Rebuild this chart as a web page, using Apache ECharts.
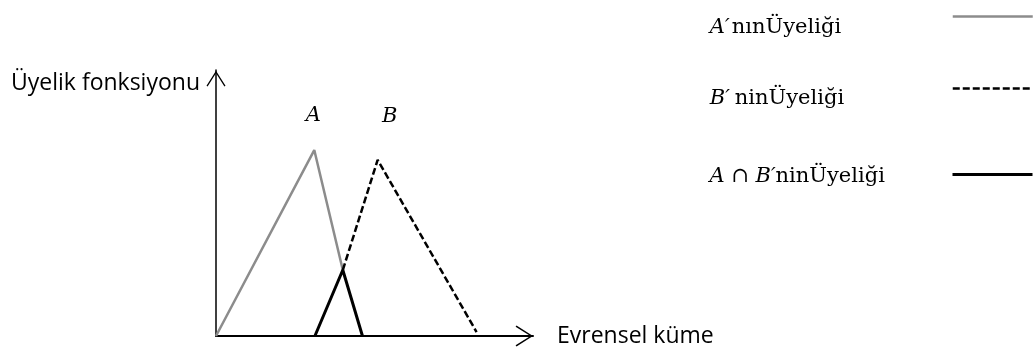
<!DOCTYPE html>
<html>
<head>
<meta charset="utf-8">
<script src="https://cdn.jsdelivr.net/npm/echarts@6/dist/echarts.min.js"></script>
<style>
  html, body { margin: 0; padding: 0; background: #fff; }
  #main { width: 1034px; height: 351px; }
</style>
</head>
<body>
<div id="main"></div>
<script>
// uyelik fonksiyonlari (x: evrensel kume 0..100, y: uyelik 0..100)
var seriesA = [[0, 0], [31.0, 69.9], [40.0, 24.8]];
var seriesB = [[40.0, 24.8], [51.0, 66.2], [82.2, 1.5]];
var seriesAB = [[31.2, 0], [40.0, 24.8], [46.2, 0]];

var peakLabels = ['A', 'B'];
var peakPoints = [[31.0, 69.9], [51.0, 66.2]];

var legendMath = ['A′', 'B′', 'A ∩ B′'];
var legendRest = ['nınÜyeliği', 'ninÜyeliği', 'ninÜyeliği'];
var seriesNames = legendMath.map(function (m, i) { return m + legendRest[i]; });

var serif = 'DejaVu Serif';
var sans = 'Open Sans';

// arrow head for axis ends (points up, gets rotated by echarts)
var chevron = 'path://M0,0 L10.5,16.5 L9.3,17.4 L0,2.6 L-9.3,17.4 L-10.5,16.5 Z';

function makeLegend(i, top, padTop, mathW, lineW) {
    var rich = {
        m: { fontFamily: serif, fontStyle: 'italic', fontSize: 21, width: mathW, align: 'left', lineHeight: 26, color: '#000' },
        t: { fontFamily: serif, fontSize: 21, width: 238 - mathW, align: 'left', lineHeight: 26, color: '#000' }
    };
    return {
        data: [seriesNames[i]],
        right: 0,
        top: top,
        padding: 0,
        align: 'right',
        itemWidth: 80,
        itemHeight: 14,
        selectedMode: false,
        itemStyle: { opacity: 0 },
        lineStyle: { width: lineW },
        textStyle: { padding: [padTop, 0, 0, 0], rich: rich },
        formatter: function () {
            return '{m|' + legendMath[i] + '}{t|' + legendRest[i] + '}';
        }
    };
}

var chart = echarts.init(document.getElementById('main'));

var option = {
    animation: false,
    backgroundColor: '#fff',
    grid: {
        left: 216,
        top: 70,
        width: 317,
        height: 266,
        outerBoundsMode: 'none'
    },
    legend: [
        makeLegend(0, 11, 21, 22, 2.5),
        makeLegend(1, 83, 20, 25, 2.5),
        makeLegend(2, 166.5, 5, 66, 3)
    ],
    xAxis: {
        type: 'value',
        min: 0,
        max: 100,
        name: 'Evrensel küme',
        nameLocation: 'end',
        nameGap: 24,
        nameTextStyle: { fontFamily: sans, fontSize: 23, color: '#000' },
        axisLine: {
            show: true,
            onZero: false,
            symbol: ['none', chevron],
            symbolSize: [21, 17.4],
            symbolOffset: [0, -8.7],
            lineStyle: { color: '#000', width: 2 }
        },
        axisTick: { show: false },
        axisLabel: { show: false },
        splitLine: { show: false }
    },
    yAxis: {
        type: 'value',
        min: 0,
        max: 100,
        name: 'Üyelik fonksiyonu',
        nameLocation: 'end',
        nameGap: -13,
        nameTextStyle: {
            fontFamily: sans,
            fontSize: 23,
            color: '#000',
            align: 'right',
            verticalAlign: 'middle',
            padding: [0, 16, 0, 0]
        },
        axisLine: {
            show: true,
            onZero: false,
            symbol: ['none', chevron],
            symbolSize: [19, 17.4],
            symbolOffset: [0, -8.7],
            lineStyle: { color: '#000', width: 1.5 }
        },
        axisTick: { show: false },
        axisLabel: { show: false },
        splitLine: { show: false }
    },
    series: [
        {
            name: seriesNames[0],
            type: 'line',
            symbol: 'none',
            clip: false,
            lineStyle: { color: '#8c8c8c', width: 2.5 },
            itemStyle: { color: '#8c8c8c' },
            data: seriesA
        },
        {
            name: seriesNames[1],
            type: 'line',
            symbol: 'none',
            clip: false,
            lineStyle: { color: '#000', width: 2.5, type: [7, 3] },
            itemStyle: { color: '#000' },
            data: seriesB
        },
        {
            name: seriesNames[2],
            type: 'line',
            symbol: 'none',
            clip: false,
            z: 3,
            lineStyle: { color: '#000', width: 3 },
            itemStyle: { color: '#000' },
            data: seriesAB
        },
        {
            // A ve B harfleri
            name: 'labels',
            type: 'scatter',
            symbolSize: 1,
            silent: true,
            itemStyle: { color: 'rgba(0,0,0,0)' },
            label: {
                show: true,
                position: 'inside',
                fontFamily: serif,
                fontStyle: 'italic',
                fontSize: 21,
                color: '#000',
                opacity: 1,
                formatter: function (p) { return peakLabels[p.dataIndex]; }
            },
            data: [
                { value: peakPoints[0], label: { offset: [-1, -35] } },
                { value: peakPoints[1], label: { offset: [12, -43.5] } }
            ]
        }
    ]
};

chart.setOption(option);
</script>
</body>
</html>
